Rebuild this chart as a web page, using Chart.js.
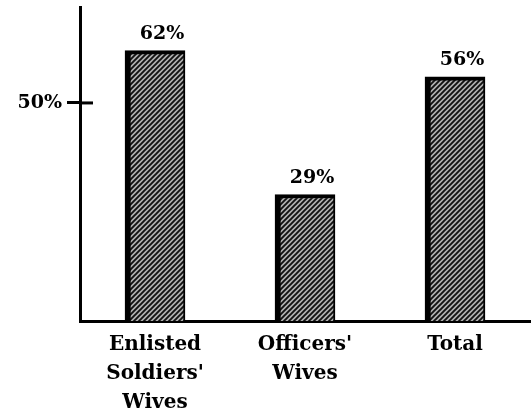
<!DOCTYPE html>
<html>
<head>
<meta charset="utf-8">
<script src="https://cdn.jsdelivr.net/npm/chart.js@4"></script>
<style>
  body { margin: 0; background: #fff; }
</style>
</head>
<body>
<canvas id="bar-chart" width="531" height="419"></canvas>
<script>
const categories = [['Enlisted', "Soldiers'", 'Wives'], ["Officers'", 'Wives'], ['Total']]
const percentages = [62, 29, 56]
const yTickValues = [50]

const FONT = '"DejaVu Serif", serif'

const canvas = document.querySelector('#bar-chart')
const ctx = canvas.getContext('2d')

// diagonal hatch, looks like the halftone shading in the scan
function makeHatch() {
    const s = 5
    const tile = document.createElement('canvas')
    tile.width = s
    tile.height = s
    const c = tile.getContext('2d')
    c.fillStyle = '#b0b0b0'
    c.fillRect(0, 0, s, s)
    c.strokeStyle = '#111'
    c.lineWidth = 1.9
    c.beginPath()
    c.moveTo(-1, s + 1); c.lineTo(s + 1, -1)
    c.moveTo(-1, 1); c.lineTo(1, -1)
    c.moveTo(s - 1, s + 1); c.lineTo(s + 1, s - 1)
    c.stroke()
    return ctx.createPattern(tile, 'repeat')
}

const valueLabels = {
    id: 'valueLabels',
    afterDatasetsDraw(chart) {
        const c = chart.ctx
        const meta = chart.getDatasetMeta(0)
        c.save()
        c.font = 'bold 19px ' + FONT
        c.fillStyle = '#000'
        c.textAlign = 'center'
        c.textBaseline = 'bottom'
        meta.data.forEach((bar, i) => {
            c.fillText(percentages[i] + '%', bar.x + 7, bar.y - 7)
        })
        c.restore()
    }
}

// the 50% tick crosses the axis, draw the inner half
const tickCross = {
    id: 'tickCross',
    afterDraw(chart) {
        const c = chart.ctx
        const y = chart.scales.y
        c.save()
        c.strokeStyle = '#000'
        c.lineWidth = 3
        yTickValues.forEach(v => {
            const py = y.getPixelForValue(v)
            c.beginPath()
            c.moveTo(y.right, py)
            c.lineTo(y.right + 13, py)
            c.stroke()
        })
        c.restore()
    }
}

new Chart(ctx, {
    type: 'bar',
    data: {
        labels: categories,
        datasets: [{
            data: percentages,
            backgroundColor: makeHatch(),
            borderColor: '#000',
            borderWidth: { top: 4, left: 6, right: 2, bottom: 0 },
            borderSkipped: false,
            barThickness: 60
        }]
    },
    options: {
        responsive: false,
        animation: false,
        layout: { padding: { top: 7, right: 1, left: 0, bottom: 0 } },
        plugins: {
            legend: { display: false },
            tooltip: { enabled: false }
        },
        scales: {
            x: {
                grid: { display: false },
                border: { display: true, color: '#000', width: 3 },
                ticks: {
                    color: '#000',
                    padding: 1,
                    font: { family: FONT, size: 20, weight: 'bold', lineHeight: 1.45 }
                },
                afterFit(scale) { scale.height = 98 }
            },
            y: {
                min: 0,
                max: 72,
                afterBuildTicks(scale) {
                    scale.ticks = yTickValues.map(v => ({ value: v }))
                },
                afterFit(scale) {
                    scale.width = 80
                    scale.paddingTop = 0
                    scale.paddingBottom = 0
                },
                grid: {
                    display: true,
                    drawOnChartArea: false,
                    drawTicks: true,
                    tickLength: 13,
                    color: '#000',
                    lineWidth: 3
                },
                border: { display: true, color: '#000', width: 3 },
                ticks: {
                    color: '#000',
                    padding: 5,
                    font: { family: FONT, size: 19, weight: 'bold' },
                    callback: v => v + '%'
                }
            }
        }
    },
    plugins: [valueLabels, tickCross]
})
</script>
</body>
</html>
